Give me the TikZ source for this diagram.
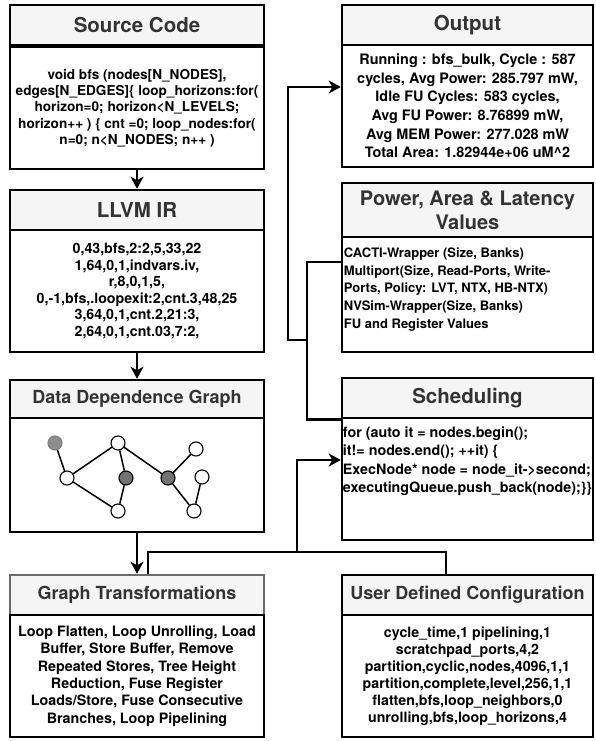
\documentclass[tikz,border=0pt]{standalone}
\usepackage{fontspec}
\setmainfont{TeX Gyre Heros}
\usetikzlibrary{arrows.meta}

\definecolor{titlefill}{HTML}{F5F5F5}
\definecolor{titletext}{HTML}{333333}
\definecolor{gtborder}{HTML}{6A6A6A}
\definecolor{lightnode}{HTML}{8E8E8E}
\definecolor{darknode}{HTML}{727272}
\newcommand{\boxfont}[2]{\fontsize{#1}{#2}\selectfont\bfseries}

\begin{document}
\begin{tikzpicture}[
  x=1pt, y=-1pt,
  heading/.style={draw, line width=2.5pt, fill=titlefill, text=titletext,
    font=\boxfont{20.5}{24}, minimum height=40pt, inner sep=0pt, align=center},
  left col/.style={minimum width=254pt},
  right col/.style={minimum width=251pt},
  panel/.style={draw, line width=2.5pt, fill=white, inner sep=0pt, align=center,
    minimum height=122pt, font=\boxfont{14.2}{17}},
  listing/.style={anchor=north west, inner sep=0pt, align=left},
  link/.style={line width=2.8pt},
  flow/.style={link, -{Stealth[length=12pt, width=13pt, inset=3.5pt]}},
  vertex/.style={circle, draw, line width=1.1pt, fill=white, inner sep=0pt, minimum size=14pt},
  dep/.style={line width=1.5pt}
]
\useasboundingbox (0,0) rectangle (595,741);

% left column
\node[heading, left col] (srcT) at (137,25) {Source Code};
\node[panel, left col, font=\boxfont{13.6}{16.3}] (srcB) at (137,108)
  {void bfs (nodes[N\_NODES],\\
   edges[N\_EDGES]\{ loop\_horizons:for(\\
   horizon=0; horizon<N\_LEVELS;\\
   horizon++ ) \{ cnt =0; loop\_nodes:for(\\
   n=0; n<N\_NODES; n++ )};
\node[heading, left col] (llvmT) at (137,210) {LLVM IR};
\node[panel, left col, font=\boxfont{14.2}{16.5}] (llvmB) at (137,291)
  {0,43,bfs,2:2,5,33,22\\
   1,64,0,1,indvars.iv,\\
   r,8,0,1,5,\\
   0,-1,bfs,.loopexit:2,cnt.3,48,25\\
   3,64,0,1,cnt.2,21:3,\\
   2,64,0,1,cnt.03,7:2,};
\node[heading, left col, minimum height=38pt, font=\boxfont{18}{22}] (ddgT) at (137,399) {Data Dependence Graph};
\node[panel, left col, minimum height=114pt] (ddgB) at (137,475) {};
\node[heading, left col, draw=gtborder, font=\boxfont{18}{22}] (gtT) at (137,595) {Graph Transformations};
\node[panel, left col, font=\boxfont{14.3}{17.3}] (gtB) at (137,676)
  {Loop Flatten, Loop Unrolling, Load\\
   Buffer, Store Buffer, Remove\\
   Repeated Stores, Tree Height\\
   Reduction, Fuse Register\\
   Loads/Store, Fuse Consecutive\\
   Branches, Loop Pipelining};

% right column
\node[heading, right col] (outT) at (467.5,25) {Output};
\node[panel, right col, font=\boxfont{14.4}{18.6}] (outB) at (467.5,106)
  {Running : bfs\_bulk, Cycle : 587\\
   cycles, Avg Power: 285.797 mW,\\
   Idle FU Cycles: 583 cycles,\\
   Avg FU Power: 8.76899 mW,\\
   Avg MEM Power: 277.028 mW\\
   Total Area: 1.82944e+06 uM\textasciicircum 2};
\node[heading, right col, minimum height=54pt, font=\boxfont{20}{24}] (palT) at (467.5,210)
  {Power, Area \& Latency\\Values};
\node[panel, right col, minimum height=115pt] (palB) at (467.5,294.5) {};
\node[listing, font=\boxfont{13}{17.6}] (palText) at ([xshift=3pt, yshift=-12pt]palB.north west)
  {CACTI-Wrapper (Size, Banks)\\
   Multiport(Size, Read-Ports, Write-\\
   Ports, Policy: LVT, NTX, HB-NTX)\\
   NVSim-Wrapper(Size, Banks)\\
   FU and Register Values};
\node[heading, right col] (schT) at (467.5,398) {Scheduling};
\node[panel, right col] (schB) at (467.5,479) {};
\node[listing, font=\boxfont{14.3}{18.3}] (schText) at ([xshift=2pt, yshift=-10pt]schB.north west)
  {for (auto it = nodes.begin();\\
   it!= nodes.end(); ++it) \{\\
   ExecNode* node = node\_it->second;\\
   executingQueue.push\_back(node);\}\}};
\node[heading, right col, font=\boxfont{18}{22}] (udcT) at (467.5,595) {User Defined Configuration};
\node[panel, right col, font=\boxfont{14.2}{17}] (udcB) at (467.5,676)
  {cycle\_time,1 pipelining,1\\
   scratchpad\_ports,4,2\\
   partition,cyclic,nodes,4096,1,1\\
   partition,complete,level,256,1,1\\
   flatten,bfs,loop\_neighbors,0\\
   unrolling,bfs,loop\_horizons,4};

% dependence graph
\node[vertex, draw=gray, fill=lightnode] (v1) at (55,443) {};
\foreach \n/\x/\y in {v2/67/478, v3/118/443, v5/118/511, v7/196/449, v8/202/477, v9/194/511}
  \node[vertex] (\n) at (\x,\y) {};
\foreach \n/\x/\y in {v4/126/478, v6/168/478}
  \node[vertex, fill=darknode] (\n) at (\x,\y) {};
\foreach \a/\b in {v1/v2, v2/v3, v2/v5, v3/v4, v4/v5, v3/v6, v6/v7, v6/v9, v8/v9}
  \draw[dep] (\a) -- (\b);

% connectors
\draw[flow] (srcB) -- (llvmT);
\draw[flow] (llvmB) -- (ddgT);
\draw[flow] (ddgB) -- (gtT);
\draw[flow] (schT.south west) -| (307,340) -- (288,340) |- ([yshift=19pt]outB.west);
\draw[link] ([yshift=32.5pt]palB.west) -| (307,418);
\draw[flow] ([xshift=-21.5pt]udcT.north) |- (297,552) |- ([yshift=19pt]schB.west);
\draw[link] ([xshift=11pt]gtT.north) |- (297,552);
\end{tikzpicture}
\end{document}
